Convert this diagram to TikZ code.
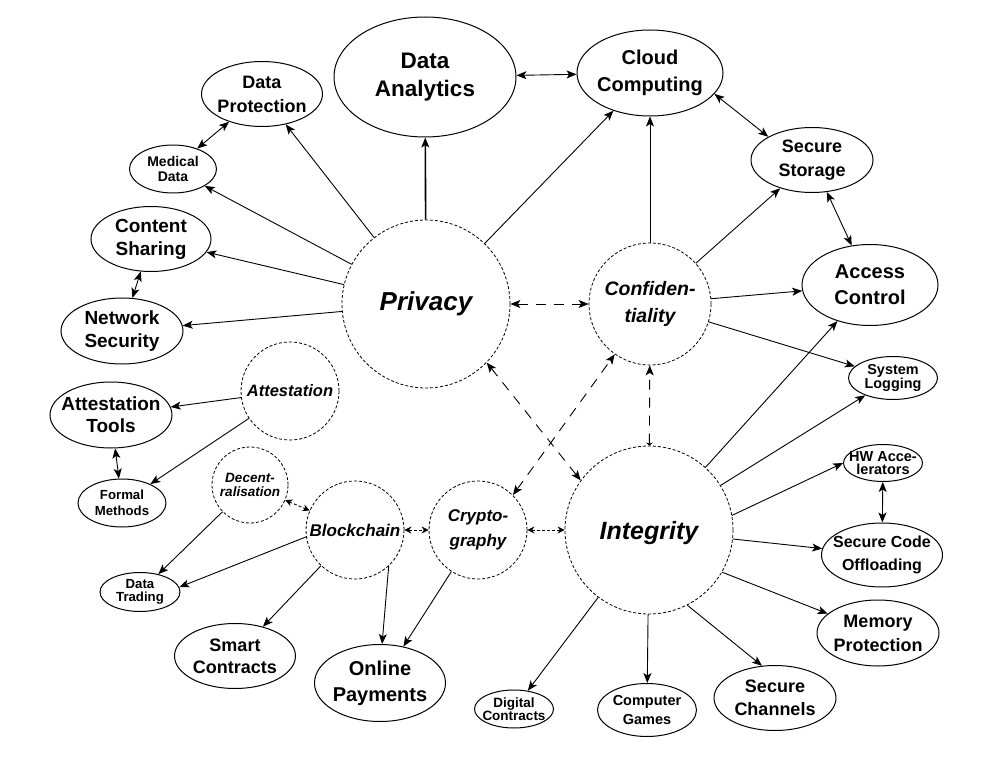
\documentclass[tikz,border=0pt]{standalone}
\usepackage{fontspec}
\setmainfont{Liberation Sans}
\usetikzlibrary{arrows.meta,shapes.geometric}
\newcommand{\fsz}[2]{\fontsize{#1}{#2}\bfseries\selectfont}

\begin{document}
\begin{tikzpicture}[x=1pt,y=-1pt,
    >={Stealth[length=10pt,width=8pt,inset=2.5pt]},
    topic/.style={circle,draw,dash pattern=on 3pt off 2pt,line width=0.8pt,inner sep=0pt,align=center},
    area/.style={ellipse,draw,line width=1pt,inner sep=0pt},
    txt/.style={align=center,inner sep=0pt},
    arrow/.style={->,line width=0.9pt},
    both/.style={<->,line width=0.9pt},
    link/.style={<->,line width=0.9pt,dash pattern=on 10pt off 8pt},
    dotlink/.style={{Stealth[length=7pt,width=7pt]}-{Stealth[length=7pt,width=7pt]},line width=0.9pt,dash pattern=on 3pt off 2pt}
  ]
    \useasboundingbox (0,0) rectangle (988,759);

    % core topics
    \node[topic,minimum size=168,font=\itshape\fsz{26}{30}] (priv) at (426,304) {Privacy};
    \node[topic,minimum size=122,font=\itshape\fsz{19.5}{27}] (conf) at (650,304) {Confiden-\\tiality};
    \node[topic,minimum size=168,text depth=0pt,font=\itshape\fsz{25}{30}] (integ) at (649,530) {Integrity};
    \node[topic,minimum size=98,font=\itshape\fsz{16.5}{20}] (attest) at (290,391) {Attestation};
    \node[topic,minimum size=76,font=\itshape\fsz{13.5}{14}] (decent) at (250,485) {Decent-\\ralisation};
    \node[topic,minimum size=98,font=\itshape\fsz{17}{20}] (block) at (355,530) {Blockchain};
    \node[topic,minimum size=98,font=\itshape\fsz{17}{25}] (crypt) at (478,530) {Crypto-\\graphy};

    % application areas
    \node[area,minimum width=182,minimum height=120,label={[txt,font=\fsz{22.5}{28}]center:Data\\Analytics}] (dana) at (425,77) {};
    \node[area,minimum width=146,minimum height=86,label={[txt,font=\fsz{20}{27}]center:Cloud\\Computing}] (cloud) at (650,73) {};
    \node[area,minimum width=122,minimum height=65,label={[txt,font=\fsz{18}{24}]center:Secure\\Storage}] (sstor) at (812,160) {};
    \node[area,minimum width=136,minimum height=81,label={[txt,font=\fsz{20}{26}]center:Access\\Control}] (acc) at (870,285) {};
    \node[area,minimum width=89,minimum height=43,label={[txt,font=\fsz{14.4}{14}]center:System\\Logging}] (slog) at (893,378) {};
    \node[area,minimum width=79,minimum height=37,label={[txt,font=\fsz{14.5}{13.5}]center:HW Acce-\\lerators}] (hw) at (883,463) {};
    \node[area,minimum width=121,minimum height=64,label={[txt,font=\fsz{16}{23}]center:Secure Code\\Offloading}] (sco) at (882,555) {};
    \node[area,minimum width=122,minimum height=66,label={[txt,font=\fsz{18}{24}]center:Memory\\Protection}] (mem) at (878,633) {};
    \node[area,minimum width=122,minimum height=65,label={[txt,font=\fsz{18}{23}]center:Secure\\Channels}] (chan) at (775,698) {};
    \node[area,minimum width=99,minimum height=53,label={[txt,font=\fsz{14.5}{19}]center:Computer\\Games}] (games) at (647,710) {};
    \node[area,minimum width=79,minimum height=38,label={[txt,font=\fsz{13.5}{13}]center:Digital\\Contracts}] (dcon) at (514,709) {};
    \node[area,minimum width=131,minimum height=77,label={[txt,font=\fsz{20}{26}]center:Online\\Payments}] (pay) at (380,683) {};
    \node[area,minimum width=121,minimum height=65,label={[txt,font=\fsz{18}{22}]center:Smart\\Contracts}] (smart) at (235,656) {};
    \node[area,minimum width=80,minimum height=39,label={[txt,font=\fsz{13.2}{13}]center:Data\\Trading}] (trade) at (140,592) {};
    \node[area,minimum width=88,minimum height=48,label={[txt,font=\fsz{13.2}{16}]center:Formal\\Methods}] (formal) at (122,503) {};
    \node[area,minimum width=122,minimum height=66,label={[txt,font=\fsz{19}{22}]center:Attestation\\Tools}] (atools) at (111,415) {};
    \node[area,minimum width=122,minimum height=66,label={[txt,font=\fsz{19}{23}]center:Network\\Security}] (netsec) at (122,331) {};
    \node[area,minimum width=120,minimum height=65,label={[txt,font=\fsz{19}{23}]center:Content\\Sharing}] (share) at (151,239) {};
    \node[area,minimum width=87,minimum height=48,label={[txt,font=\fsz{14}{15}]center:Medical\\Data}] (med) at (173,169) {};
    \node[area,minimum width=121,minimum height=65,label={[txt,font=\fsz{18}{24}]center:Data\\Protection}] (dprot) at (262,94) {};

    % privacy
    \draw[arrow,line width=1.6pt] (priv) -- (dana);
    \draw[arrow] (priv) -- (cloud);
    \draw[arrow] (priv) -- (dprot);
    \draw[arrow] (priv) -- (med);
    \draw[arrow] (priv) -- (share);
    \draw[arrow] (priv) -- (netsec);
    \draw[both] (dana) -- (cloud);
    \draw[both] (dprot) -- (med);
    \draw[both] (share) -- (netsec);

    % confidentiality
    \draw[both] (cloud.-18) -- (sstor.152);
    \draw[both] (sstor) -- (acc);
    \draw[arrow] (conf) -- (cloud);
    \draw[arrow] (conf) -- (sstor);
    \draw[arrow] (conf) -- (acc);
    \draw[arrow] (conf) -- (slog);

    % integrity
    \draw[arrow] (integ) -- (acc);
    \draw[arrow] (integ) -- (slog);
    \draw[arrow] (integ.10) -- (hw.west);
    \draw[both] (hw) -- (sco);
    \draw[arrow] (integ) -- (sco);
    \draw[arrow] (integ.-30) -- (mem.159);
    \draw[arrow] (integ.-63) -- (chan.112);
    \draw[arrow] (integ) -- (games);
    \draw[arrow] (integ) -- (dcon);

    % attestation, blockchain, cryptography
    \draw[arrow] (attest) -- (atools);
    \draw[arrow] (attest) -- (formal);
    \draw[both] (atools) -- (formal);
    \draw[arrow] (decent) -- (trade);
    \draw[dotlink] (decent) -- (block);
    \draw[arrow] (block.188) -- (trade.7);
    \draw[arrow] (block) -- (smart);
    \draw[arrow] (block.-47) -- (pay.87);
    \draw[dotlink] (block) -- (crypt);
    \draw[arrow] (crypt) -- (pay);
    \draw[dotlink] (crypt) -- (integ);

    % dashed links between topics
    \draw[link] (priv) -- (conf);
    \draw[link] (priv.-44) -- (integ.144);
    \draw[link] (crypt.45) -- (conf.235);
    \draw[link,{Stealth[length=3pt,width=7pt]}->] (integ) -- (conf);
\end{tikzpicture}
\end{document}
